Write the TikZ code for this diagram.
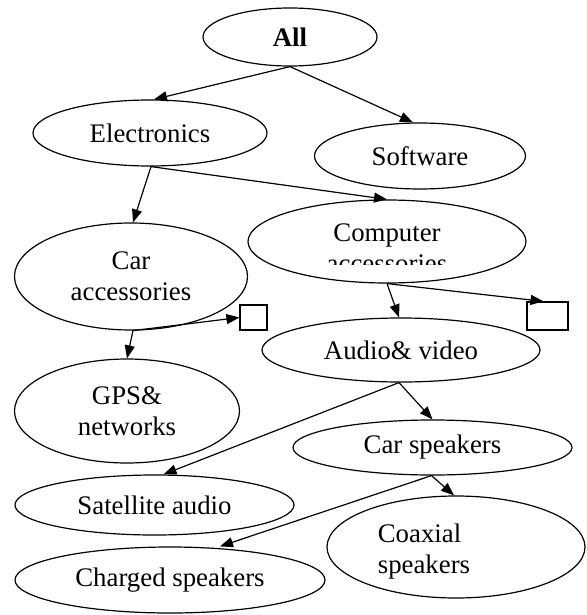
\documentclass[tikz,border=0pt]{standalone}
\usepackage{fontspec}
\setmainfont{Liberation Serif}
\usetikzlibrary{arrows.meta,shapes.geometric}

\begin{document}
\begin{tikzpicture}[>={Triangle[length=13pt,width=10pt]}, x=1pt, y=-1pt, line width=1.2pt,
    font=\fontsize{26.8pt}{31pt}\selectfont,
    oval/.style={draw, ellipse, inner sep=0pt, align=center},
    stub/.style={draw, rectangle, inner sep=0pt}]

    \useasboundingbox (0,0) rectangle (586,615);

    % categories
    \node[oval, minimum width=174, minimum height=58] (all) at (290,37) {\bfseries All};
    \node[oval, minimum width=234, minimum height=66] (elec) at (150,133) {Electronics};
    \node[oval, minimum width=211, minimum height=66] (soft) at (420,156) {Software};
    \node[oval, minimum width=278, minimum height=83] (comp) at (387,241.5) {};
    \node[oval, minimum width=233, minimum height=107] (car) at (131,276.5) {Car\\accessories};
    \node[oval, minimum width=278, minimum height=64] (audio) at (401,350) {Audio\& video};
    \node[oval, minimum width=225, minimum height=104] (gps) at (127,411) {GPS\&\\networks};
    \node[oval, minimum width=279, minimum height=55] (carsp) at (432.5,447.5) {Car speakers};
    \node[oval, minimum width=279, minimum height=60] (sat) at (154.5,505) {Satellite audio};
    \node[oval, minimum width=258, minimum height=102] (coax) at (456,547) {};
    \node[oval, minimum width=310, minimum height=66] (chg) at (170,580) {Charged speakers};

    \node[stub, minimum width=27, minimum height=25] (sq1) at (253.5,317.5) {};
    \node[stub, minimum width=41, minimum height=28] (sq2) at (547.5,316) {};

    % label of comp, second line cut off
    \node[anchor=base] (compA) at (387,241) {Computer};
    \begin{scope}
        \clip (248,200) rectangle (526,264);
        \node[anchor=base] (compB) at (387,272) {accessories};
    \end{scope}
    \node[align=left] (coaxT) at (424,552) {Coaxial\\speakers};

    % links
    \draw[->] (all.south) -- ([xshift=4]elec.north);
    \draw[->] (all.south) -- ([xshift=-7]soft.north);
    \draw[->] ([xshift=1]elec.south) -- ([xshift=2]car.north);
    \draw[->] ([xshift=1]elec.south) -- (comp.north);
    \draw[->] ([xshift=2]car.south) -- (sq1.west);
    \draw[->] ([xshift=2]car.south) -- (gps.north);
    \draw[->] (comp.south) -- ([xshift=-2]audio.north);
    \draw[->] (comp.south) -- ([xshift=-4]sq2.north);
    \draw[->] ([xshift=-2]audio.south) -- (carsp.north);
    \draw[->] ([xshift=-2]audio.south) -- ([xshift=9]sat.north);
    \draw[->] ([xshift=-1]carsp.south) -- ([xshift=-2]coax.north);
    \draw[->] ([xshift=-1]carsp.south) -- ([xshift=50]chg.north);

\end{tikzpicture}
\end{document}
